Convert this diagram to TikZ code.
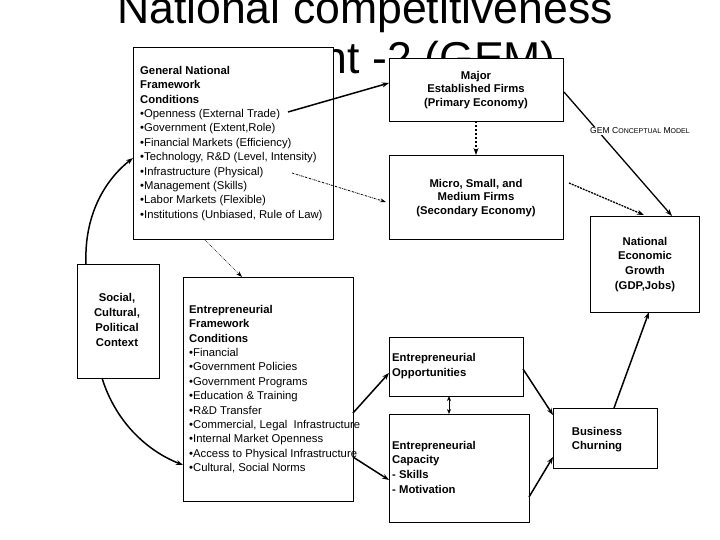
\documentclass[tikz,border=0pt]{standalone}
\usepackage{fontspec}
\setmainfont{Liberation Sans}
\usetikzlibrary{arrows.meta}
\begin{document}
\begin{tikzpicture}[x=1pt,y=-1pt,
  box/.style={draw,thick,fill=white,anchor=north west,inner sep=0},
  txt/.style={inner sep=0,font=\fontsize{11.3}{14.4}\selectfont},
  arr/.style={-{Stealth[length=7pt,width=5pt]},line width=1.5pt},
  thinarr/.style={-{Stealth[length=6pt,width=4pt]},line width=0.8pt,densely dotted}]
\useasboundingbox (0,0) rectangle (720,540);
\fill[white] (0,0) rectangle (720,540);
% title
\node[inner sep=0,anchor=base,font=\fontsize{44.6}{50}\selectfont] (t1) at (365,24) {National competitiveness};
\begin{scope}
\clip (134,30) rectangle (720,120);
\node[inner sep=0,anchor=base east,font=\fontsize{44.6}{50}\selectfont] (t2) at (556,74) {assessment -2 (GEM)};
\end{scope}
% boxes
\node[box,minimum width=200,minimum height=192] (gn) at (133,47) {};
\node[box,minimum width=174,minimum height=63] (maj) at (389,58) {};
\node[box,minimum width=174,minimum height=84] (mic) at (389,155) {};
\node[box,minimum width=109,minimum height=96] (nat) at (590,216) {};
\node[box,minimum width=82,minimum height=114] (soc) at (77,264) {};
\node[box,minimum width=170,minimum height=224] (efc) at (183,277) {};
\node[box,minimum width=134,minimum height=59] (opp) at (389,337) {};
\node[box,minimum width=140,minimum height=108] (cap) at (389,414) {};
\node[box,minimum width=104,minimum height=60] (bus) at (553,408) {};
% texts
\node[txt,anchor=north west,align=left] (gnt) at (140,66) {\textbf{General National}\\\textbf{Framework}\\\textbf{Conditions}\\
\textbullet Openness (External Trade)\\\textbullet Government (Extent,Role)\\\textbullet Financial Markets (Efficiency)\\
\textbullet Technology, R\&D (Level, Intensity)\\\textbullet Infrastructure (Physical)\\\textbullet Management (Skills)\\
\textbullet Labor Markets (Flexible)\\\textbullet Institutions (Unbiased, Rule of Law)};
\node[txt,anchor=north,align=center,font=\bfseries\fontsize{11.3}{13.5}\selectfont] (majt) at (476,71) {Major\\Established Firms\\(Primary Economy)};
\node[txt,anchor=north,align=center,font=\bfseries\fontsize{11.3}{13.5}\selectfont] (mict) at (476,179) {Micro, Small, and\\Medium Firms\\(Secondary Economy)};
\node[txt,anchor=north,align=center,font=\bfseries\fontsize{11.3}{14.6}\selectfont] (natt) at (645,237) {National\\Economic\\Growth\\(GDP,Jobs)};
\node[txt,anchor=north,align=center,font=\bfseries\fontsize{11.3}{15}\selectfont] (soct) at (117,293) {Social,\\Cultural,\\Political\\Context};
\node[txt,anchor=north west,align=left] (efct) at (189,305) {\textbf{Entrepreneurial}\\\textbf{Framework}\\\textbf{Conditions}\\
\textbullet Financial\\\textbullet Government Policies\\\textbullet Government Programs\\\textbullet Education \& Training\\
\textbullet R\&D Transfer\\\textbullet Commercial, Legal\ \ Infrastructure\\\textbullet Internal Market Openness\\
\textbullet Access to Physical Infrastructure\\\textbullet Cultural, Social Norms};
\node[txt,anchor=north west,align=left,font=\bfseries\fontsize{11.3}{14.8}\selectfont] (oppt) at (392,353) {Entrepreneurial\\Opportunities};
\node[txt,anchor=north west,align=left,font=\bfseries\fontsize{11.3}{14.6}\selectfont] (capt) at (392,441) {Entrepreneurial\\Capacity\\- Skills\\- Motivation};
\node[txt,anchor=north,align=center,font=\bfseries\fontsize{11.3}{14.4}\selectfont] (bust) at (597,427) {Business\\Churning};
% connector end points
\coordinate (a1) at (288,112); \coordinate (a2) at (389,83);
\coordinate (b1) at (476,121); \coordinate (b2) at (476,155);
\coordinate (c1) at (292,173); \coordinate (c2) at (386,202);
\coordinate (d1) at (569,183); \coordinate (d2) at (644,215);
\coordinate (e1) at (564,92); \coordinate (e2) at (672,216);
\coordinate (f1) at (205,240); \coordinate (f2) at (242,277);
\coordinate (g1) at (86,264); \coordinate (g2) at (133,158);
\coordinate (h1) at (102,378); \coordinate (h2) at (183,465);
\coordinate (i1) at (353,413); \coordinate (i2) at (389,373);
\coordinate (j1) at (353,457); \coordinate (j2) at (389,480);
\coordinate (k1) at (449,396); \coordinate (k2) at (449,414);
\coordinate (l1) at (523,369); \coordinate (l2) at (553,415);
\coordinate (m1) at (529,497); \coordinate (m2) at (553,457);
\coordinate (n1) at (614,408); \coordinate (n2) at (649,312);
% connectors
\draw[arr] (a1) -- (a2);
\draw[arr,dashed,dash pattern=on 2.5pt off 1.5pt] (b1) -- (b2);
\draw[thinarr,dash pattern=on 2pt off 1pt on 0.5pt off 1pt] (c1) -- (c2);
\draw[arr,line width=1.3pt,dash pattern=on 2pt off 1pt] (d1) -- (d2);
\draw[arr,line width=1.3pt] (e1) -- (e2);
\node[inner sep=1pt,fill=white,font=\fontsize{8.6}{9}\selectfont] (gem) at (640,131) {GEM C{\fontsize{7}{8}\selectfont ONCEPTUAL} M{\fontsize{7}{8}\selectfont ODEL}};
\draw[thinarr,line width=0.6pt] (f1) -- (f2);
\draw[arr] (g1) .. controls (84,215) and (105,180) .. (g2);
\draw[arr] (h1) .. controls (115,420) and (145,450) .. (h2);
\draw[arr] (i1) -- (i2);
\draw[arr] (j1) -- (j2);
\draw[{Stealth[length=5pt,width=4pt]}-{Stealth[length=5pt,width=4pt]},line width=0.8pt] (k1) -- (k2);
\draw[arr] (l1) -- (l2);
\draw[arr] (m1) -- (m2);
\draw[arr] (n1) -- (n2);
\end{tikzpicture}
\end{document}
